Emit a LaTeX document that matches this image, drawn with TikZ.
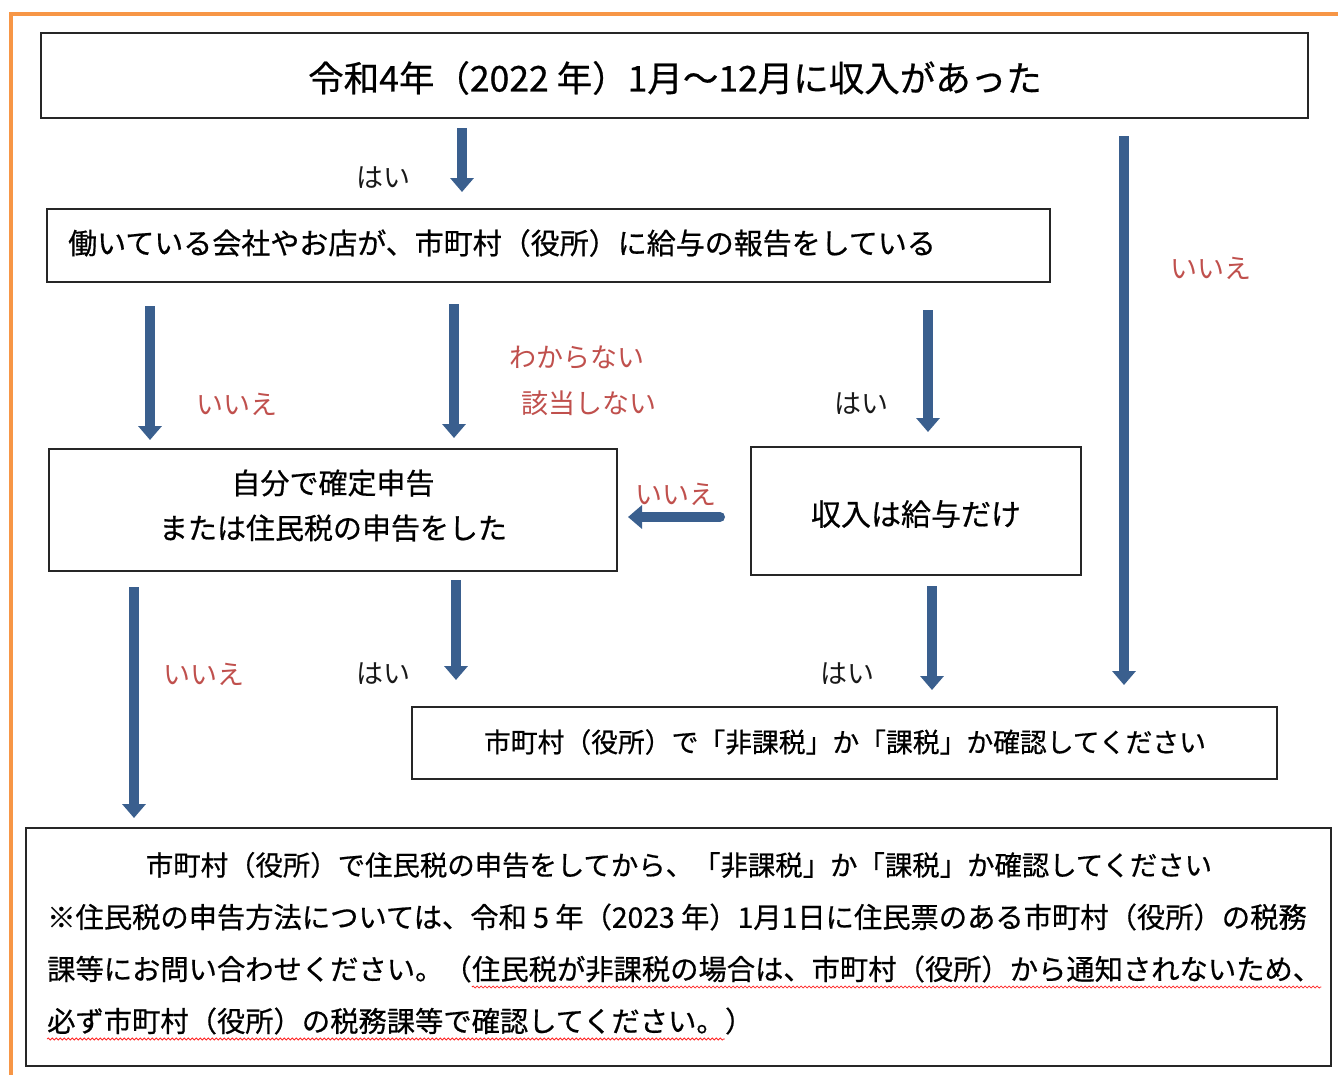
\documentclass[tikz,border=0pt]{standalone}
\usepackage{fontspec}
\setmainfont{Noto Sans CJK JP}
\newfontfamily\boxfont{Noto Sans CJK JP}[FakeBold=0.6]
\usetikzlibrary{arrows.meta,decorations.pathmorphing}
\definecolor{arrblue}{HTML}{3A5F8E}
\definecolor{lblred}{HTML}{C0504D}
\definecolor{frameor}{HTML}{F79646}
\tikzset{
  x=1pt,y=-1pt,
  arr/.style={draw=arrblue,line width=10pt,-{Triangle[width=23pt,length=14pt]}},
  box/.style={draw=black!85,line width=1.2pt,rectangle,inner sep=0pt,fill=white},
  btext/.style={font=\boxfont\fontsize{29}{34}\selectfont,text=black,inner sep=0pt},
  ntext/.style={font=\boxfont\fontsize{28.3}{32}\selectfont,text=black,inner sep=0pt},
  yes/.style={font=\fontsize{27}{30}\selectfont,text=black!90,inner sep=0pt},
  no/.style={font=\fontsize{27}{30}\selectfont,text=lblred,inner sep=0pt},
  wavy/.style={draw=red!85,line width=0.8pt,decorate,decoration={snake,amplitude=1pt,segment length=4pt}}
}
\begin{document}
\begin{tikzpicture}
\useasboundingbox (0,0) rectangle (1338,1074);
\fill[white] (0,0) rectangle (1338,1074);
% orange frame
\draw[frameor,line width=4pt] (11,1080) -- (11,14) -- (1345,14);

% boxes
\node[box,minimum width=1267pt,minimum height=85pt] (b1) at (674.5,75.5) {};
\node[btext,font=\boxfont\fontsize{35.5}{40}\selectfont] (t1) at (675,78) {令和4年（2022 年）1月～12月に収入があった};

\node[box,minimum width=1003pt,minimum height=73pt] (b2) at (548.5,245.5) {};
\node[btext,anchor=west] (t2) at (68,243) {働いている会社やお店が、市町村（役所）に給与の報告をしている};

\node[box,minimum width=568pt,minimum height=122pt] (b3) at (333,510) {};
\node[btext] (t3a) at (333,483) {自分で確定申告};
\node[btext] (t3b) at (333,528) {または住民税の申告をした};

\node[box,minimum width=330pt,minimum height=128pt] (b4) at (916,511) {};
\node[btext,font=\boxfont\fontsize{30}{34}\selectfont] (t4) at (916,514) {収入は給与だけ};

\node[box,minimum width=865pt,minimum height=72pt] (b5) at (844.5,743) {};
\node[btext,font=\boxfont\fontsize{26.8}{32}\selectfont] (t5) at (845,742) {市町村（役所）で「非課税」か「課税」か確認してください};

\node[box,minimum width=1305pt,minimum height=238pt] (b6) at (678.5,947) {};
\node[btext,font=\boxfont\fontsize{27.4}{32}\selectfont] (t6a) at (679,865) {市町村（役所）で住民税の申告をしてから、「非課税」か「課税」か確認してください};
\node[ntext,anchor=west] (t6b) at (47,917) {※住民税の申告方法については、令和 5 年（2023 年）1月1日に住民票のある市町村（役所）の税務};
\node[ntext,anchor=west] (t6c1) at (47,969) {課等にお問い合わせください。（};
\node[ntext,anchor=west] (t6c2) at (t6c1.east) {住民税が非課税の場合は、市町村（役所）から通知されないため、};
\node[ntext,anchor=west] (t6d1) at (47,1021) {必ず市町村（役所）の税務課等で確認してください。};
\node[ntext,anchor=west] (t6d2) at (t6d1.east) {）};

% wavy underlines
\coordinate (u3) at (0,987);
\coordinate (u4) at (0,1039);
\draw[wavy] (t6c2.west |- u3) -- (t6c2.east |- u3);
\draw[wavy] (t6d1.west |- u4) -- (t6d1.east |- u4);

% arrow endpoints
\coordinate (p1s) at (462,128);  \coordinate (p1e) at (462,192);
\coordinate (p2s) at (1124,136); \coordinate (p2e) at (1124,685);
\coordinate (p3s) at (150,306);  \coordinate (p3e) at (150,440);
\coordinate (p4s) at (454,304);  \coordinate (p4e) at (454,438);
\coordinate (p5s) at (928,310);  \coordinate (p5e) at (928,432);
\coordinate (p6s) at (720,517);  \coordinate (p6e) at (628,517);
\coordinate (p7s) at (134,587);  \coordinate (p7e) at (134,818);
\coordinate (p8s) at (456,580);  \coordinate (p8e) at (456,680);
\coordinate (p9s) at (932,586);  \coordinate (p9e) at (932,690);

\draw[arr] (p1s) -- (p1e);
\draw[arr] (p2s) -- (p2e);
\draw[arr] (p3s) -- (p3e);
\draw[arr] (p4s) -- (p4e);
\draw[arr] (p5s) -- (p5e);
\draw[arr,line cap=round] (p6s) -- (p6e);
\draw[arr] (p7s) -- (p7e);
\draw[arr] (p8s) -- (p8e);
\draw[arr] (p9s) -- (p9e);

% labels
\node[yes] (l1) at (383,178) {はい};
\node[no]  (l2) at (1211,268) {いいえ};
\node[no]  (l3) at (237,404) {いいえ};
\node[no]  (l4a) at (577,358) {わからない};
\node[no]  (l4b) at (589,403) {該当しない};
\node[yes] (l5) at (861,404) {はい};
\node[no]  (l6) at (676,494) {いいえ};
\node[no]  (l7) at (204,674) {いいえ};
\node[yes] (l8) at (383,674) {はい};
\node[yes] (l9) at (847,674) {はい};
\end{tikzpicture}
\end{document}
